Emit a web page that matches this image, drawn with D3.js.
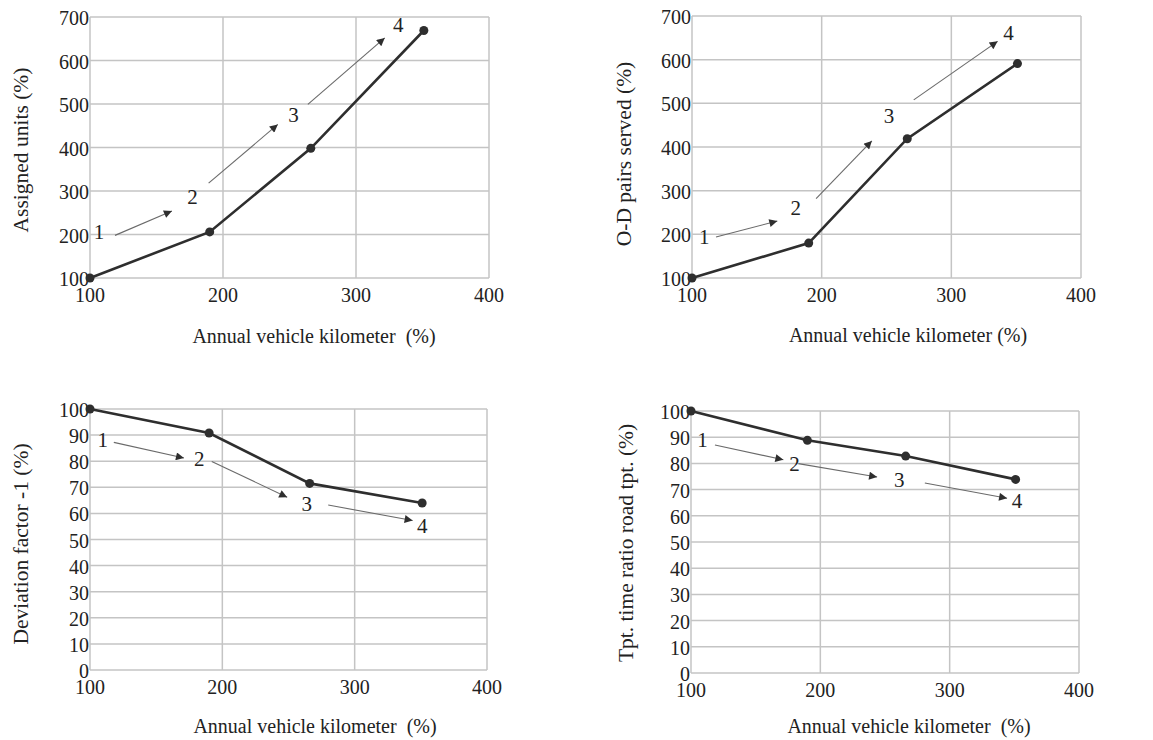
<!DOCTYPE html>
<html lang="en">

<head>
  <meta charset="UTF-8" />
  <title>Annual vehicle kilometer panels</title>
  <script src="https://d3js.org/d3.v7.min.js"></script>
  <style>
    body {
      margin: 0;
      background-color: white;
    }

    svg {
      display: block;
    }

    svg text {
      font-family: "Liberation Serif", "DejaVu Serif", serif;
    }

    .grid line {
      stroke: #c4c4c4;
      stroke-width: 1.5;
    }

    .tick-label {
      font-size: 20px;
      fill: #222;
    }

    .axis-title {
      font-size: 20px;
      fill: #222;
      white-space: pre;
    }

    .y-title {
      font-size: 21.5px;
    }

    .series {
      fill: none;
      stroke: #2e2e2e;
      stroke-width: 2.6;
    }

    .dot {
      fill: #2e2e2e;
    }

    .arrow {
      stroke: #6a6a6a;
      stroke-width: 1.1;
    }

    .step-label {
      font-size: 21px;
      fill: #222;
    }
  </style>
</head>

<body>
  <script>
    // data
    const xKm = [100, 190, 266, 351];
    const assignedUnits = [100, 206, 398, 669];
    const odPairs = [100, 180, 419, 591];
    const deviationFactor = [100, 90.8, 71.5, 64];
    const tptRatio = [100, 88.8, 82.8, 73.9];

    const xTicks = [100, 200, 300, 400];
    const yTicksTop = [100, 200, 300, 400, 500, 600, 700];
    const yTicksBottom = [0, 10, 20, 30, 40, 50, 60, 70, 80, 90, 100];

    const stepNames = ['1', '2', '3', '4'];

    // arrows between steps, [x1, y1, x2, y2] in data units
    const arrowsUnits = [[118.8, 198, 161.6, 254], [189.2, 318, 241.2, 453], [263.8, 499, 321.6, 652]];
    const labelsUnits = [[106.8, 205], [177, 286], [253, 474], [331.7, 681]];
    const arrowsOD = [[118.5, 194, 165.8, 230.5], [195.7, 282, 238.7, 414], [271, 508, 335.7, 642]];
    const labelsOD = [[109.5, 195], [180, 261], [252, 471], [344, 662]];
    const arrowsDev = [[118, 87.2, 171, 81.2], [192, 79.9, 249, 66.2], [280, 63.2, 343.8, 57.3]];
    const labelsDev = [[109.6, 88.2], [182.6, 80.8], [263.7, 63.7], [351, 55]];
    const arrowsTpt = [[118.5, 87, 171.4, 81.4], [183, 79.9, 243.9, 74.8], [280.8, 72.5, 344.4, 66.7]];
    const labelsTpt = [[108.8, 88.8], [180, 79.6], [261, 73.5], [352, 65.6]];

    const w = 1153;
    const h = 740;
    const serif = 'Liberation Serif, DejaVu Serif, serif';

    const svg = d3.select('body')
      .append('svg')
      .attr('width', w)
      .attr('height', h)
      .attr('font-family', serif);

    svg.append('defs')
      .append('marker')
      .attr('id', 'head')
      .attr('viewBox', '0 0 10 10')
      .attr('refX', 10)
      .attr('refY', 5)
      .attr('markerUnits', 'userSpaceOnUse')
      .attr('markerWidth', 10)
      .attr('markerHeight', 8)
      .attr('orient', 'auto')
      .append('path')
      .attr('d', 'M0,0L10,5L0,10Z')
      .attr('fill', '#2e2e2e');

    function drawPanel(p) {
      const g = svg.append('g');

      const x = d3.scaleLinear().domain([100, 400]).range([p.left, p.right]);
      const y = d3.scaleLinear().domain(p.yDomain).range([p.bottom, p.top]);

      const grid = g.append('g').attr('class', 'grid');
      grid.selectAll('.gx')
        .data(xTicks)
        .enter()
        .append('line')
        .attr('x1', d => x(d))
        .attr('x2', d => x(d))
        .attr('y1', p.top)
        .attr('y2', p.bottom);
      grid.selectAll('.gy')
        .data(p.yTicks)
        .enter()
        .append('line')
        .attr('x1', p.left)
        .attr('x2', p.right)
        .attr('y1', d => y(d))
        .attr('y2', d => y(d));

      g.selectAll('.ylab')
        .data(p.yTicks)
        .enter()
        .append('text')
        .attr('class', 'tick-label')
        .attr('x', p.left - 1)
        .attr('y', d => y(d) + 1)
        .attr('text-anchor', 'end')
        .attr('dominant-baseline', 'central')
        .text(d => d);

      g.selectAll('.xlab')
        .data(xTicks)
        .enter()
        .append('text')
        .attr('class', 'tick-label')
        .attr('x', d => x(d))
        .attr('y', p.bottom + 24)
        .attr('text-anchor', 'middle')
        .text(d => d);

      g.append('text')
        .attr('class', 'axis-title')
        .attr('x', p.xTitleX)
        .attr('y', p.xTitleY)
        .attr('text-anchor', 'middle')
        .text(p.xTitle);

      g.append('text')
        .attr('class', 'axis-title y-title')
        .attr('text-anchor', 'middle')
        .attr('dominant-baseline', 'central')
        .attr('transform', `translate(${p.yTitleX},${p.yTitleY}) rotate(-90)`)
        .text(p.yTitle);

      // step arrows
      g.selectAll('.arrow')
        .data(p.arrows)
        .enter()
        .append('line')
        .attr('class', 'arrow')
        .attr('x1', d => x(d[0]))
        .attr('y1', d => y(d[1]))
        .attr('x2', d => x(d[2]))
        .attr('y2', d => y(d[3]))
        .attr('marker-end', 'url(#head)');

      g.selectAll('.step-label')
        .data(p.labels)
        .enter()
        .append('text')
        .attr('class', 'step-label')
        .attr('x', d => x(d[0]))
        .attr('y', d => y(d[1]))
        .attr('text-anchor', 'middle')
        .attr('dominant-baseline', 'central')
        .text((d, i) => stepNames[i]);

      const line = d3.line()
        .x((d, i) => x(xKm[i]))
        .y(d => y(d));

      g.append('path')
        .datum(p.values)
        .attr('class', 'series')
        .attr('d', line);

      g.selectAll('.dot')
        .data(p.values)
        .enter()
        .append('circle')
        .attr('class', 'dot')
        .attr('cx', (d, i) => x(xKm[i]))
        .attr('cy', d => y(d))
        .attr('r', 4.5);
    }

    drawPanel({
      left: 90, right: 489, top: 17, bottom: 278,
      yDomain: [100, 700], yTicks: yTicksTop, values: assignedUnits,
      arrows: arrowsUnits, labels: labelsUnits,
      xTitle: 'Annual vehicle kilometer  (%)', xTitleX: 314, xTitleY: 343,
      yTitle: 'Assigned units (%)', yTitleX: 21, yTitleY: 150
    });

    drawPanel({
      left: 692, right: 1081, top: 16, bottom: 278,
      yDomain: [100, 700], yTicks: yTicksTop, values: odPairs,
      arrows: arrowsOD, labels: labelsOD,
      xTitle: 'Annual vehicle kilometer (%)', xTitleX: 908, xTitleY: 342,
      yTitle: 'O-D pairs served (%)', yTitleX: 624, yTitleY: 154
    });

    drawPanel({
      left: 90, right: 487, top: 409, bottom: 670,
      yDomain: [0, 100], yTicks: yTicksBottom, values: deviationFactor,
      arrows: arrowsDev, labels: labelsDev,
      xTitle: 'Annual vehicle kilometer  (%)', xTitleX: 315, xTitleY: 733,
      yTitle: 'Deviation factor -1 (%)', yTitleX: 21, yTitleY: 544
    });

    drawPanel({
      left: 691, right: 1079, top: 411, bottom: 673,
      yDomain: [0, 100], yTicks: yTicksBottom, values: tptRatio,
      arrows: arrowsTpt, labels: labelsTpt,
      xTitle: 'Annual vehicle kilometer  (%)', xTitleX: 909, xTitleY: 733,
      yTitle: 'Tpt. time ratio road tpt. (%)', yTitleX: 626, yTitleY: 543
    });
  </script>
</body>

</html>
